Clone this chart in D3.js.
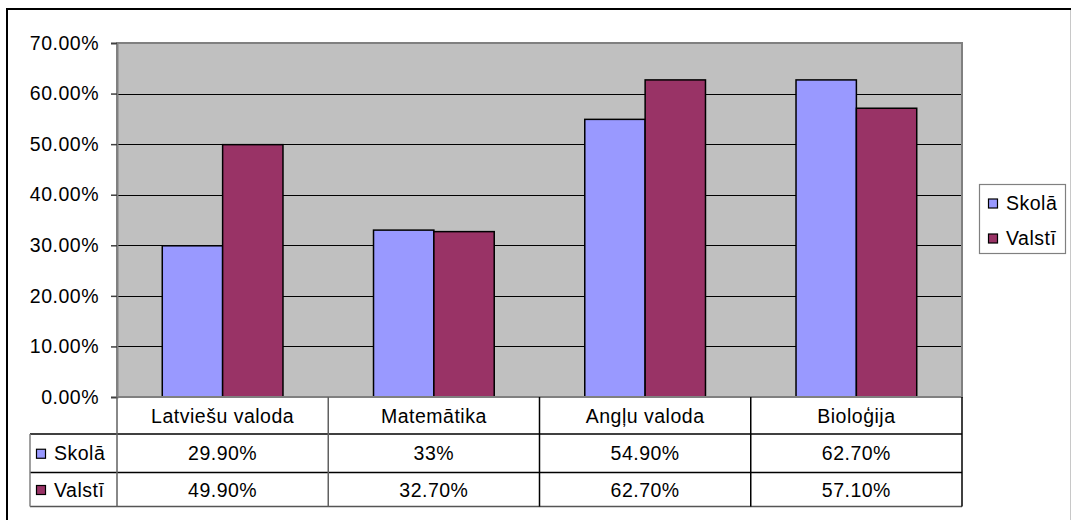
<!DOCTYPE html>
<html><head><meta charset="utf-8">
<script src="https://cdn.jsdelivr.net/npm/d3@7"></script>
<style>body{margin:0;background:#fff}svg{display:block;font-family:"Liberation Sans",Arial,sans-serif}text{letter-spacing:0.5px}</style>
</head><body><svg id="c" width="1071" height="520"></svg>
<script>
const categories = ["Latviešu valoda", "Matemātika", "Angļu valoda", "Bioloģija"];
const seriesNames = ["Skolā", "Valstī"];
const skola = [29.9, 33, 54.9, 62.7];
const valsti = [49.9, 32.7, 62.7, 57.1];
const skolaLabels = ["29.90%", "33%", "54.90%", "62.70%"];
const valstiLabels = ["49.90%", "32.70%", "62.70%", "57.10%"];
const yTicks = [0, 10, 20, 30, 40, 50, 60, 70];
const colors = ["#9999FF", "#993366"];

const svg = d3.select("#c");
const L = 117, R = 962, T = 43, B = 397;
const fs = 19.5;

// outer frame
svg.append("line").attr("x1",6).attr("x2",1071).attr("y1",9).attr("y2",9).attr("stroke","#000").attr("stroke-width",2);
svg.append("line").attr("x1",7).attr("x2",7).attr("y1",8).attr("y2",520).attr("stroke","#000").attr("stroke-width",2);
svg.append("line").attr("x1",1070.5).attr("x2",1070.5).attr("y1",10).attr("y2",520).attr("stroke","#c8c8c8").attr("stroke-width",1);

const y = d3.scaleLinear().domain([0,70]).range([B,T]);
const x0 = d3.scaleBand().domain(categories).range([L,R]).paddingInner(1.5/3.5).paddingOuter(0.75/3.5);
const x1 = d3.scaleBand().domain(seriesNames).range([0,x0.bandwidth()]);

// plot area
svg.append("rect").attr("x",L).attr("y",T).attr("width",R-L).attr("height",B-T).attr("fill","#C0C0C0");
// gridlines
svg.append("g").selectAll("line").data(yTicks.filter(d=>d>0&&d<70)).join("line")
  .attr("x1",L).attr("x2",R).attr("y1",d=>Math.round(y(d))+0.5).attr("y2",d=>Math.round(y(d))+0.5)
  .attr("stroke","#000").attr("stroke-width",1.2);

// bars
const data = categories.map((c,i)=>({c, vals:[skola[i], valsti[i]]}));
svg.append("g").selectAll("g").data(data).join("g")
  .attr("transform",d=>`translate(${x0(d.c)},0)`)
  .selectAll("rect").data(d=>d.vals.map((v,j)=>({s:seriesNames[j], v, j}))).join("rect")
  .attr("x",d=>x1(d.s)).attr("width",x1.bandwidth())
  .attr("y",d=>y(d.v)).attr("height",d=>B-y(d.v))
  .attr("fill",d=>colors[d.j]).attr("stroke","#000").attr("stroke-width",1.5);

// plot border
svg.append("rect").attr("x",L).attr("y",T).attr("width",R-L).attr("height",B-T).attr("fill","none").attr("stroke","#808080").attr("stroke-width",2);

// y axis
const yAxis = d3.axisLeft(y).tickValues(yTicks).tickSize(6).tickPadding(12).tickFormat(d=>d.toFixed(2)+"%");
const ga = svg.append("g").attr("transform",`translate(${L},0)`).call(yAxis);
ga.select(".domain").attr("stroke","#808080").attr("stroke-width",2);
ga.selectAll(".tick line").attr("stroke","#404040").attr("stroke-width",1.5);
ga.selectAll("text").attr("font-size",fs).attr("fill","#000").attr("font-family","Liberation Sans, Arial, sans-serif");

// data table
const rows = [397, 434, 472.5, 506.5];
const tL = 30;
const tbl = svg.append("g");
const colEdges = [L].concat(categories.map(c=>x0(c)+x0.bandwidth()/2 + x0.step()/2));
tbl.append("line").attr("x1",tL).attr("x2",R).attr("y1",rows[1]).attr("y2",rows[1]).attr("stroke","#000").attr("stroke-width",1.5);
tbl.append("line").attr("x1",tL).attr("x2",R).attr("y1",rows[2]).attr("y2",rows[2]).attr("stroke","#000").attr("stroke-width",1.5);
tbl.append("line").attr("x1",tL).attr("x2",R).attr("y1",rows[3]).attr("y2",rows[3]).attr("stroke","#555").attr("stroke-width",1.5);
tbl.append("line").attr("x1",tL).attr("x2",tL).attr("y1",rows[1]).attr("y2",rows[3]).attr("stroke","#808080").attr("stroke-width",1.5);
tbl.selectAll("line.v").data(colEdges).join("line").attr("class","v")
  .attr("x1",d=>d).attr("x2",d=>d).attr("y1",rows[0]).attr("y2",rows[3])
  .attr("stroke",(d,i)=>i<2?"#606060":"#000").attr("stroke-width",1.5);

tbl.selectAll("text.cat").data(categories).join("text").attr("class","cat")
  .attr("x",d=>x0(d)+x0.bandwidth()/2).attr("y",(rows[0]+rows[1])/2+7)
  .attr("text-anchor","middle").attr("font-size",fs).text(d=>d);
[skolaLabels, valstiLabels].forEach((labs, r)=>{
  tbl.selectAll("text.v"+r).data(labs).join("text").attr("class","v"+r)
    .attr("x",(d,i)=>x0(categories[i])+x0.bandwidth()/2).attr("y",(rows[r+1]+rows[r+2])/2+7)
    .attr("text-anchor","middle").attr("font-size",fs).text(d=>d);
  const cy = (rows[r+1]+rows[r+2])/2;
  tbl.append("rect").attr("x",36.5).attr("y",cy-4).attr("width",9).attr("height",9)
    .attr("fill",colors[r]).attr("stroke","#000").attr("stroke-width",1.2);
  tbl.append("text").attr("x",54).attr("y",cy+7).attr("font-size",fs).text(seriesNames[r]);
});

// legend
const lg = svg.append("g");
lg.append("rect").attr("x",979.5).attr("y",184.5).attr("width",86).attr("height",69).attr("fill","#fff").attr("stroke","#808080").attr("stroke-width",1.2);
seriesNames.forEach((s,i)=>{
  const cy = [203, 238][i];
  lg.append("rect").attr("x",988.5).attr("y",cy-4).attr("width",9).attr("height",9).attr("fill",colors[i]).attr("stroke","#000").attr("stroke-width",1.2);
  lg.append("text").attr("x",1006).attr("y",cy+7).attr("font-size",fs).text(s);
});
</script></body></html>
